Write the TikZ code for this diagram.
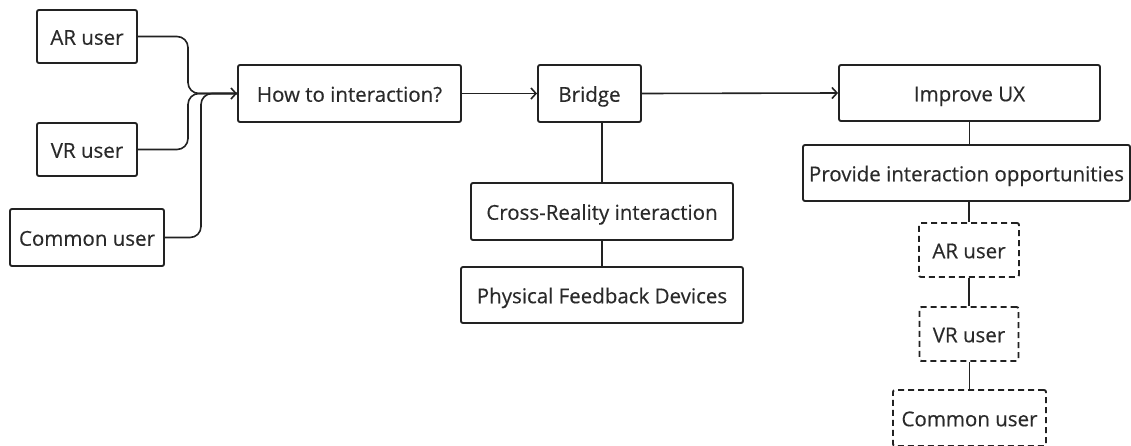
\documentclass[tikz,border=0pt]{standalone}
\usepackage{fontspec}
\setmainfont{Open Sans}[FakeBold=0.35]
\usetikzlibrary{arrows.meta}
\definecolor{ink}{HTML}{222222}
\definecolor{txt}{HTML}{2a2a2a}
\tikzset{
  box/.style={draw=ink, line width=1.9pt, rounded corners=2pt, inner sep=0pt,
    text=txt, font=\fontsize{20.5}{24}\selectfont, fill=white,
    text height=16.5pt, text depth=0pt},
  dbox/.style={box, dash pattern=on 6pt off 4pt},
  conn/.style={draw=ink, line width=1.6pt},
  arr/.style={conn, -{Straight Barb[length=5pt,width=11pt,line width=1.6pt]}},
}
\begin{document}
\begin{tikzpicture}[x=1pt,y=-1pt]
\useasboundingbox (0,0) rectangle (1131,445);
\clip (0,0) rectangle (1131,445);
% left column
\node[box, minimum width=100, minimum height=53] (ar) at (87,36.5) {AR user};
\node[box, minimum width=100, minimum height=53] (vr) at (87,149.5) {VR user};
\node[box, minimum width=154, minimum height=57] (cu) at (87,237.5) {Common user};
% main row
\node[box, minimum width=223, minimum height=57] (how) at (349.5,93.5) {How to interaction?};
\node[box, minimum width=103, minimum height=57] (bridge) at (589.5,93.5) {Bridge};
\node[box, minimum width=262, minimum height=57] (cross) at (602,211.5) {Cross-Reality interaction};
\node[box, minimum width=282, minimum height=56] (phys) at (602,295) {Physical Feedback Devices};
\node[box, minimum width=261, minimum height=56] (ux) at (969.5,93) {Improve UX};
\node[box, minimum width=327, minimum height=56] (prov) at (966.5,173) {Provide interaction opportunities};
\node[dbox, minimum width=100, minimum height=54] (dar) at (969,250) {AR user};
\node[dbox, minimum width=99, minimum height=54] (dvr) at (969,334) {VR user};
\node[dbox, minimum width=153, minimum height=56] (dcu) at (969.5,418) {Common user};
% junctions
\coordinate (j1) at (188,93.5);
\coordinate (j2) at (201,93.5);
% connectors
\draw[conn, rounded corners=11pt] (ar.east) -| (j1) -- (how.west);
\draw[conn, rounded corners=11pt] (vr.east) -| (j1) -- (how.west);
\draw[conn, rounded corners=11pt] (cu.east) -| (j2) -- (how.west);
\draw[arr] (j2) -- (how.west);
\draw[arr] (how.east) -- (bridge.west);
\draw[arr] (bridge.east) -- (ux.west);
\draw[conn] (cross.north) -- (cross.north |- bridge.south);
\draw[conn] (phys.north) -- (phys.north |- cross.south);
\draw[conn] (ux.south) -- (ux.south |- prov.north);
\draw[conn] (dar.north) -- (dar.north |- prov.south);
\draw[conn] (dvr.north) -- (dvr.north |- dar.south);
\draw[conn] (dcu.north) -- (dcu.north |- dvr.south);
\end{tikzpicture}
\end{document}
